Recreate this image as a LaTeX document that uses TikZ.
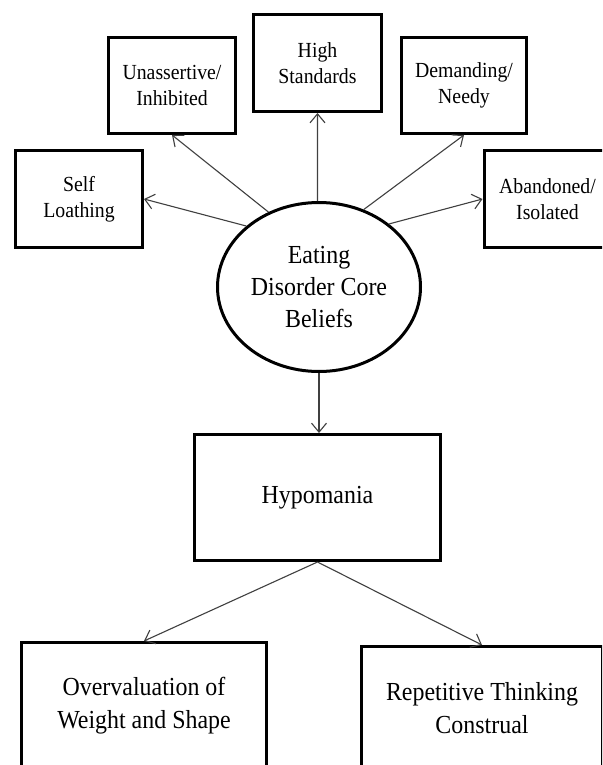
\documentclass[tikz,border=0pt]{standalone}
\usepackage{fontspec}
\setmainfont[FakeStretch=0.92]{Liberation Serif}
\usetikzlibrary{arrows.meta,shapes.geometric}
\begin{document}
\begin{tikzpicture}[x=1pt,y=-1pt,
  box/.style={draw, line width=3pt, rectangle, align=center, inner sep=0pt},
  smallbox/.style={box, font=\fontsize{21.5}{26}\selectfont},
  bigbox/.style={box, font=\fontsize{26}{33}\selectfont},
  corebelief/.style={draw, ellipse, line width=3pt, inner sep=0pt, align=center,
    minimum width=203pt, minimum height=169pt, font=\fontsize{26}{32}\selectfont},
  link/.style={draw=black!75, line width=1.1pt, -{Straight Barb[length=9pt,width=15pt]}}
]
\clip (0,0) rectangle (602,765);
\fill[white] (0,0) rectangle (602,765);

% core beliefs and the five belief boxes around it
\node[corebelief] (core) at (319,287) {Eating\\Disorder Core\\Beliefs};
\node[smallbox, minimum width=127pt, minimum height=97pt] (self) at (79,199) {Self\\Loathing};
\node[smallbox, minimum width=127pt, minimum height=96pt] (unas) at (172,85.5) {Unassertive/\\Inhibited};
\node[smallbox, minimum width=128pt, minimum height=97pt] (high) at (317.5,63) {High\\Standards};
\node[smallbox, minimum width=125pt, minimum height=96pt] (dem) at (464,85.5) {Demanding/\\Needy};
\node[smallbox, minimum width=127pt, minimum height=97pt] (aband) at (547.5,199) {Abandoned/\\Isolated};

% lower chain
\node[bigbox, minimum width=246pt, minimum height=126pt] (hyp) at (317.5,497.5) {Hypomania};
\node[bigbox, minimum width=245pt, minimum height=127pt] (over) at (144,706) {Overvaluation of\\Weight and Shape};
\node[bigbox, minimum width=241pt, minimum height=123pt] (rep) at (482,708) {Repetitive Thinking\\Construal};

% connectors
\draw[link] (core.140) -- (self.east);
\draw[link] (core.124) -- (unas.south);
\draw[link] (core.91) -- (high.south);
\draw[link] (core.60) -- (dem.south);
\draw[link] (core.42) -- (aband.west);
\draw[link] (core.south) -- (core.south |- hyp.north);
\draw[link] (hyp.south) -- (over.north);
\draw[link] (hyp.south) -- (rep.north);
\end{tikzpicture}
\end{document}
